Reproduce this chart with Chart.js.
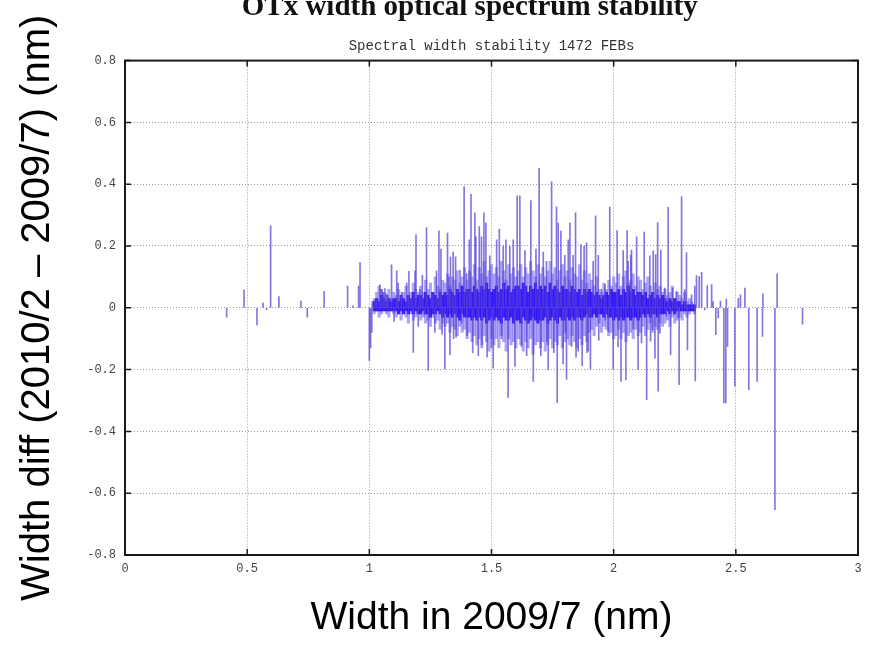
<!DOCTYPE html>
<html>
<head>
<meta charset="utf-8">
<script src="https://cdn.jsdelivr.net/npm/chart.js@4.4.1/dist/chart.umd.min.js"></script>
<style>
  html, body { margin: 0; padding: 0; background: #ffffff; }
  #c { display: block; }
</style>
</head>
<body>
<canvas id="c" width="875" height="645"></canvas>
<script>
// ---------- text ----------
const titleText = 'OTx width optical spectrum stability';
const subtitleText = 'Spectral width stability 1472 FEBs';
const xTitle = 'Width in 2009/7 (nm)';
const yTitle = 'Width diff (2010/2 \u2013 2009/7) (nm)';

// ---------- ticks ----------
const xTicks = [0, 0.5, 1, 1.5, 2, 2.5, 3];
const xTickLabels = ['0', '0.5', '1', '1.5', '2', '2.5', '3'];
const yTicks = [-0.8, -0.6, -0.4, -0.2, 0, 0.2, 0.4, 0.6, 0.8];
const yTickLabels = ['-0.8', '-0.6', '-0.4', '-0.2', '0', '0.2', '0.4', '0.6', '0.8'];

// ---------- individual spikes (width in 2009/7, width diff) ----------
const spikeWidths = [
  0.416, 0.487, 0.540, 0.565, 0.580, 0.596, 0.630, 0.720, 0.746, 0.815, 0.911, 0.933, 0.956, 0.962,
  1.000, 1.005, 1.010, 1.012, 1.023, 1.031, 1.043, 1.050, 1.057, 1.064, 1.070, 1.076, 1.091, 1.101,
  1.112, 1.118, 1.132, 1.153, 1.162, 1.173, 1.180, 1.187, 1.191, 1.200, 1.207, 1.217, 1.225, 1.234,
  1.241, 1.255, 1.262, 1.268, 1.275, 1.285, 1.293, 1.298, 1.309, 1.320, 1.326, 1.330, 1.332, 1.343,
  1.345, 1.353, 1.355, 1.371, 1.378, 1.388, 1.398, 1.400, 1.409, 1.416, 1.423, 1.432, 1.436, 1.446,
  1.450, 1.459, 1.461, 1.469, 1.477, 1.482, 1.493, 1.500, 1.507, 1.521, 1.532, 1.541, 1.548, 1.559,
  1.568, 1.575, 1.589, 1.596, 1.605, 1.616, 1.623, 1.637, 1.644, 1.661, 1.671, 1.682, 1.695, 1.702,
  1.712, 1.725, 1.727, 1.732, 1.746, 1.755, 1.766, 1.769, 1.773, 1.784, 1.793, 1.800, 1.802, 1.807,
  1.814, 1.821, 1.828, 1.834, 1.844, 1.846, 1.855, 1.866, 1.871, 1.879, 1.889, 1.891, 1.896, 1.905,
  1.916, 1.926, 1.937, 1.939, 1.950, 1.964, 1.966, 1.978, 1.984, 1.998, 2.014, 2.018, 2.030, 2.039,
  2.050, 2.055, 2.059, 2.070, 2.073, 2.080, 2.094, 2.100, 2.107, 2.114, 2.125, 2.135, 2.148, 2.151,
  2.159, 2.162, 2.169, 2.172, 2.180, 2.182, 2.189, 2.193, 2.209, 2.216, 2.223, 2.233, 2.241, 2.257,
  2.264, 2.268, 2.278, 2.291, 2.298, 2.302, 2.319, 2.332, 2.334, 2.339, 2.350, 2.360, 2.373, 2.383,
  2.401, 2.407, 2.418, 2.428, 2.437, 2.451, 2.459, 2.461, 2.466, 2.496, 2.510, 2.519, 2.537, 2.553,
  2.587, 2.609, 2.611, 2.660, 2.669, 2.773
];
const spikeDiffs = [
  -0.030, 0.058, -0.055, 0.015, -0.006, 0.265, 0.036, 0.022, -0.030, 0.053, 0.070, 0.006, 0.070, 0.146,
  -0.170, -0.130, -0.080, 0.020, 0.025, 0.020, 0.074, 0.060, 0.050, 0.062, 0.045, 0.040, 0.139, -0.044,
  0.120, 0.080, 0.050, 0.080, 0.118, 0.030, -0.144, 0.120, 0.236, -0.060, 0.060, 0.105, -0.024, 0.260,
  -0.203, 0.050, 0.040, -0.080, 0.120, 0.249, 0.190, -0.085, -0.198, 0.242, 0.100, -0.152, 0.165, 0.180,
  -0.100, 0.165, -0.095, 0.122, -0.050, 0.392, 0.110, -0.090, 0.220, 0.367, -0.145, 0.307, 0.230, -0.155,
  0.263, 0.230, -0.120, 0.307, 0.275, -0.160, 0.168, -0.130, -0.195, 0.220, 0.255, -0.100, 0.200, 0.220,
  -0.290, 0.200, 0.220, -0.190, 0.362, 0.362, -0.125, 0.185, -0.155, 0.347, -0.238, 0.190, 0.451, -0.155,
  0.180, 0.150, -0.110, -0.200, 0.408, -0.145, 0.327, -0.307, 0.274, 0.248, -0.182, 0.170, -0.080, -0.232,
  0.220, 0.274, -0.125, 0.170, 0.307, -0.160, -0.140, 0.205, -0.187, 0.200, 0.210, -0.145, -0.140, -0.198,
  0.150, 0.298, 0.170, -0.105, 0.060, 0.075, -0.040, -0.078, 0.326, -0.198, 0.250, -0.127, -0.238, 0.185,
  -0.233, 0.250, 0.150, 0.170, 0.187, -0.068, 0.230, -0.200, 0.046, -0.114, 0.245, -0.297, 0.168, -0.108,
  -0.071, 0.184, -0.163, 0.172, 0.276, -0.270, -0.082, 0.187, 0.064, -0.028, 0.325, -0.152, 0.064, 0.053,
  -0.032, -0.249, 0.360, 0.058, 0.179, -0.136, 0.042, 0.070, -0.237, 0.104, 0.101, 0.115, -0.006, 0.072,
  0.075, 0.020, -0.087, -0.033, 0.022, -0.308, -0.308, 0.028, -0.125, -0.254, 0.031, 0.042, 0.064, -0.265,
  -0.238, -0.093, 0.045, -0.653, 0.110, -0.053
];

// ---------- dense band of small differences ----------
const bandWidths = [
  1.02, 1.03, 1.04, 1.05, 1.06, 1.07, 1.08, 1.09, 1.10,
  1.11, 1.12, 1.13, 1.14, 1.15, 1.16, 1.17, 1.18, 1.19, 1.20,
  1.21, 1.22, 1.23, 1.24, 1.25, 1.26, 1.27, 1.28, 1.29, 1.30,
  1.31, 1.32, 1.33, 1.34, 1.35, 1.36, 1.37, 1.38, 1.39, 1.40,
  1.41, 1.42, 1.43, 1.44, 1.45, 1.46, 1.47, 1.48, 1.49, 1.50,
  1.51, 1.52, 1.53, 1.54, 1.55, 1.56, 1.57, 1.58, 1.59, 1.60,
  1.61, 1.62, 1.63, 1.64, 1.65, 1.66, 1.67, 1.68, 1.69, 1.70,
  1.71, 1.72, 1.73, 1.74, 1.75, 1.76, 1.77, 1.78, 1.79, 1.80,
  1.81, 1.82, 1.83, 1.84, 1.85, 1.86, 1.87, 1.88, 1.89, 1.90,
  1.91, 1.92, 1.93, 1.94, 1.95, 1.96, 1.97, 1.98, 1.99, 2.00,
  2.01, 2.02, 2.03, 2.04, 2.05, 2.06, 2.07, 2.08, 2.09, 2.10,
  2.11, 2.12, 2.13, 2.14, 2.15, 2.16, 2.17, 2.18, 2.19, 2.20,
  2.21, 2.22, 2.23, 2.24, 2.25, 2.26, 2.27, 2.28, 2.29, 2.30,
  2.31, 2.32, 2.33
];
const bandUp = [
  0.03, 0.05, 0.07, 0.06, 0.05, 0.04, 0.06, 0.03, 0.05,
  0.04, 0.06, 0.03, 0.05, 0.07, 0.04, 0.05, 0.08, 0.06, 0.05,
  0.07, 0.05, 0.09, 0.06, 0.08, 0.05, 0.10, 0.07, 0.06, 0.09,
  0.08, 0.11, 0.07, 0.10, 0.09, 0.12, 0.08, 0.10, 0.13, 0.09,
  0.12, 0.10, 0.14, 0.09, 0.13, 0.11, 0.15, 0.10, 0.12, 0.14,
  0.11, 0.13, 0.10, 0.15, 0.12, 0.09, 0.14, 0.11, 0.13, 0.10,
  0.12, 0.14, 0.10, 0.13, 0.11, 0.15, 0.12, 0.10, 0.14, 0.11,
  0.13, 0.10, 0.12, 0.15, 0.11, 0.13, 0.09, 0.12, 0.14, 0.10,
  0.12, 0.09, 0.13, 0.11, 0.10, 0.14, 0.09, 0.12, 0.08, 0.11,
  0.09, 0.07, 0.10, 0.06, 0.05, 0.08, 0.06, 0.09, 0.07, 0.10,
  0.08, 0.11, 0.07, 0.10, 0.12, 0.08, 0.09, 0.11, 0.07, 0.10,
  0.09, 0.06, 0.08, 0.10, 0.07, 0.05, 0.08, 0.06, 0.07, 0.05,
  0.06, 0.04, 0.05, 0.07, 0.03, 0.05, 0.04, 0.03, 0.05, 0.02,
  0.03, 0.02, 0.01
];
const bandDown = [
  -0.02, -0.01, -0.03, -0.02, -0.01, -0.02, -0.03, -0.01, -0.02,
  -0.03, -0.02, -0.04, -0.02, -0.03, -0.05, -0.02, -0.04, -0.03, -0.02,
  -0.04, -0.03, -0.05, -0.04, -0.06, -0.03, -0.05, -0.04, -0.07, -0.05,
  -0.06, -0.05, -0.08, -0.06, -0.07, -0.09, -0.06, -0.08, -0.07, -0.10,
  -0.08, -0.11, -0.09, -0.12, -0.10, -0.13, -0.09, -0.11, -0.14, -0.10,
  -0.12, -0.10, -0.13, -0.09, -0.11, -0.14, -0.10, -0.12, -0.11, -0.13,
  -0.10, -0.12, -0.14, -0.11, -0.13, -0.10, -0.15, -0.12, -0.11, -0.13,
  -0.11, -0.14, -0.12, -0.10, -0.13, -0.11, -0.12, -0.09, -0.13, -0.11,
  -0.10, -0.12, -0.09, -0.11, -0.13, -0.10, -0.12, -0.09, -0.11, -0.08,
  -0.07, -0.09, -0.06, -0.05, -0.08, -0.06, -0.07, -0.09, -0.08, -0.10,
  -0.09, -0.07, -0.10, -0.08, -0.11, -0.09, -0.08, -0.10, -0.07, -0.09,
  -0.08, -0.06, -0.09, -0.07, -0.05, -0.08, -0.06, -0.07, -0.05, -0.06,
  -0.05, -0.04, -0.06, -0.03, -0.05, -0.04, -0.03, -0.04, -0.02, -0.03,
  -0.02, -0.01, -0.02
];
const coreUp = [
  0.02, 0.03, 0.02, 0.04, 0.03, 0.02, 0.03, 0.02, 0.03,
  0.03, 0.02, 0.04, 0.03, 0.02, 0.04, 0.03, 0.05, 0.03, 0.04,
  0.04, 0.03, 0.05, 0.04, 0.03, 0.05, 0.04, 0.03, 0.05, 0.04,
  0.05, 0.04, 0.06, 0.05, 0.04, 0.06, 0.05, 0.07, 0.05, 0.06,
  0.06, 0.05, 0.07, 0.06, 0.05, 0.07, 0.06, 0.08, 0.06, 0.05,
  0.06, 0.07, 0.05, 0.06, 0.08, 0.06, 0.07, 0.05, 0.06, 0.07,
  0.07, 0.06, 0.08, 0.07, 0.05, 0.07, 0.06, 0.08, 0.06, 0.07,
  0.06, 0.07, 0.05, 0.08, 0.06, 0.07, 0.06, 0.05, 0.07, 0.06,
  0.06, 0.05, 0.07, 0.06, 0.05, 0.06, 0.04, 0.06, 0.05, 0.06,
  0.05, 0.04, 0.05, 0.04, 0.03, 0.04, 0.05, 0.04, 0.06, 0.05,
  0.05, 0.06, 0.04, 0.06, 0.05, 0.07, 0.05, 0.06, 0.04, 0.05,
  0.05, 0.04, 0.05, 0.03, 0.04, 0.05, 0.03, 0.04, 0.03, 0.04,
  0.03, 0.02, 0.03, 0.02, 0.03, 0.02, 0.02, 0.01, 0.02, 0.01,
  0.01, 0.01, 0.01
];
const coreDown = [
  -0.01, -0.01, -0.01, -0.01, -0.01, -0.01, -0.01, -0.01, -0.01,
  -0.01, -0.02, -0.01, -0.02, -0.01, -0.02, -0.01, -0.02, -0.01, -0.02,
  -0.02, -0.01, -0.02, -0.02, -0.03, -0.02, -0.02, -0.01, -0.02, -0.03,
  -0.02, -0.03, -0.02, -0.03, -0.02, -0.03, -0.04, -0.02, -0.03, -0.03,
  -0.03, -0.04, -0.03, -0.04, -0.03, -0.04, -0.03, -0.05, -0.04, -0.03,
  -0.04, -0.03, -0.04, -0.05, -0.03, -0.04, -0.04, -0.03, -0.05, -0.04,
  -0.04, -0.05, -0.03, -0.04, -0.05, -0.04, -0.03, -0.04, -0.05, -0.04,
  -0.04, -0.03, -0.05, -0.04, -0.03, -0.04, -0.05, -0.03, -0.04, -0.04,
  -0.03, -0.04, -0.03, -0.04, -0.03, -0.03, -0.04, -0.03, -0.02, -0.03,
  -0.03, -0.02, -0.03, -0.02, -0.02, -0.03, -0.02, -0.03, -0.03, -0.04,
  -0.03, -0.04, -0.03, -0.04, -0.03, -0.03, -0.04, -0.03, -0.03, -0.04,
  -0.03, -0.02, -0.03, -0.02, -0.03, -0.02, -0.02, -0.03, -0.02, -0.02,
  -0.02, -0.01, -0.02, -0.01, -0.02, -0.01, -0.01, -0.01, -0.01, -0.01,
  -0.01, -0.01, -0.01
];

// ---------- build ----------
const pairs = (xs, ys) => xs.map((x, i) => ({ x: x, y: ys[i] }));

const framePlugin = {
  id: 'frame',
  afterDatasetsDraw(chart) {
    const { ctx, chartArea: a, scales } = chart;
    ctx.save();
    ctx.strokeStyle = '#1a1a1a';
    ctx.lineWidth = 2;
    ctx.strokeRect(a.left, a.top, a.right - a.left, a.bottom - a.top);
    ctx.lineWidth = 1.5;
    const len = 6;
    xTicks.forEach(v => {
      const px = scales.x.getPixelForValue(v);
      ctx.beginPath();
      ctx.moveTo(px, a.bottom); ctx.lineTo(px, a.bottom - len);
      ctx.moveTo(px, a.top); ctx.lineTo(px, a.top + len);
      ctx.stroke();
    });
    yTicks.forEach(v => {
      const py = scales.y.getPixelForValue(v);
      ctx.beginPath();
      ctx.moveTo(a.left, py); ctx.lineTo(a.left + len, py);
      ctx.moveTo(a.right, py); ctx.lineTo(a.right - len, py);
      ctx.stroke();
    });
    ctx.restore();
  }
};

// main title drawn through the Title plugin, nudged left to sit where the original does
const titleShift = {
  id: 'titleShift',
  beforeDraw(chart) { chart.ctx.save(); },
  afterDraw(chart) { chart.ctx.restore(); }
};

const tickFont = { family: 'Liberation Mono', size: 12 };

new Chart(document.getElementById('c'), {
  type: 'bar',
  data: {
    datasets: [
      { label: 'spikes', data: pairs(spikeWidths, spikeDiffs), backgroundColor: 'rgba(85,65,210,0.72)',
        barThickness: 1, grouped: false, borderWidth: 0, order: 0 },
      { label: 'core up', data: pairs(bandWidths, coreUp), backgroundColor: 'rgba(45,15,245,0.85)',
        barThickness: 2.5, grouped: false, borderWidth: 0, order: 1 },
      { label: 'core down', data: pairs(bandWidths, coreDown), backgroundColor: 'rgba(45,15,245,0.85)',
        barThickness: 2.5, grouped: false, borderWidth: 0, order: 1 },
      { label: 'band up', data: pairs(bandWidths, bandUp), backgroundColor: 'rgba(110,90,240,0.55)',
        barThickness: 2.5, grouped: false, borderWidth: 0, order: 2 },
      { label: 'band down', data: pairs(bandWidths, bandDown), backgroundColor: 'rgba(110,90,240,0.55)',
        barThickness: 2.5, grouped: false, borderWidth: 0, order: 2 }
    ]
  },
  options: {
    responsive: false,
    animation: false,
    devicePixelRatio: 1,
    layout: { padding: { left: 0, right: 17, top: 0, bottom: 0 } },
    plugins: {
      legend: { display: false },
      tooltip: { enabled: false },
      title: {
        display: true, text: titleText + '      ', color: '#111', fullSize: false,
        font: { family: 'Liberation Serif', size: 29, weight: 'bold' },
        padding: { top: -10, bottom: 0 }
      },
      subtitle: {
        display: true, text: subtitleText, color: '#333', fullSize: false,
        font: { family: 'Liberation Mono', size: 14 },
        padding: { top: 13, bottom: 6 }
      }
    },
    scales: {
      x: {
        type: 'linear', min: 0, max: 3, offset: false,
        afterBuildTicks: s => { s.ticks = xTicks.map(v => ({ value: v })); },
        afterFit: s => { s.height = 90; },
        ticks: {
          callback: v => xTickLabels[xTicks.indexOf(v)],
          font: tickFont, color: '#444', padding: 7, maxRotation: 0, autoSkip: false
        },
        grid: { color: '#9a9a9a', lineWidth: 1, drawTicks: false, offset: false },
        border: { display: false, dash: [1, 2] },
        title: {
          display: true, text: xTitle, color: '#000',
          font: { family: 'Liberation Sans', size: 39 },
          padding: { top: 0, bottom: 3 }
        }
      },
      y: {
        type: 'linear', min: -0.8, max: 0.8,
        afterBuildTicks: s => { s.ticks = yTicks.map(v => ({ value: v })); },
        afterFit: s => { s.width = 125; },
        ticks: {
          callback: v => yTickLabels[yTicks.indexOf(v)],
          font: tickFont, color: '#444', padding: 9, autoSkip: false
        },
        grid: { color: '#9a9a9a', lineWidth: 1, drawTicks: false },
        border: { display: false, dash: [1, 2] },
        title: {
          display: true, text: yTitle, color: '#000',
          font: { family: 'Liberation Sans', size: 40 },
          padding: { top: 14, bottom: 0 }
        }
      }
    }
  },
  plugins: [framePlugin, titleShift]
});
</script>
</body>
</html>
